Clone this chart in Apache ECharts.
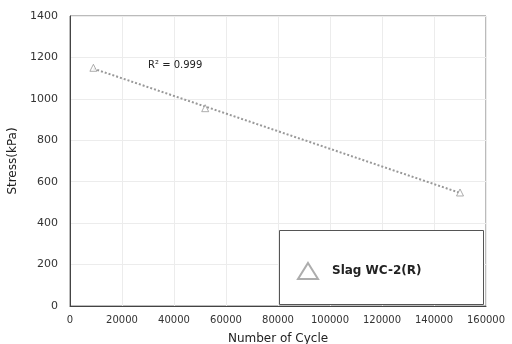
<!DOCTYPE html>
<html>
<head>
<meta charset="utf-8">
<script src="https://cdn.jsdelivr.net/npm/echarts@6/dist/echarts.min.js"></script>
</head>
<body style="margin:0">
<div id="main" style="width:512px;height:344px;"></div>
<script type="text/javascript">
// measured points
var cycles = [9000, 52000, 150000];
var stress = [1150, 955, 548];
// trend line ends
var trendCycles = [9000, 150000];
var trendStress = [1146, 546];
var seriesName = 'Slag WC-2(R)';
var r2Text = 'R² = 0.999';

var pts = cycles.map(function (c, i) { return [c, stress[i]]; });
var trend = trendCycles.map(function (c, i) { return [c, trendStress[i]]; });

var FONT = 'DejaVu Sans';
var plain = function (v) { return String(v); };
var myChart = echarts.init(document.getElementById('main'));
var option = {
    animation: false,
    textStyle: { fontFamily: FONT },
    grid: {
        left: 70, right: 26, top: 16, bottom: 38,
        outerBoundsMode: 'none', containLabel: false,
        show: true, borderColor: '#777', borderWidth: 1
    },
    xAxis: {
        type: 'value',
        min: 0, max: 160000, interval: 20000,
        name: 'Number of Cycle',
        nameLocation: 'middle', nameGap: 27,
        nameTextStyle: { fontSize: 12, color: '#222', fontFamily: FONT },
        axisLine: { lineStyle: { color: '#444' } },
        axisTick: { show: false },
        axisLabel: { fontSize: 10, color: '#333', margin: 9, formatter: plain },
        splitLine: { lineStyle: { color: '#ececec' } }
    },
    yAxis: {
        type: 'value',
        min: 0, max: 1400, interval: 200,
        name: 'Stress(kPa)',
        nameLocation: 'middle', nameGap: 39,
        nameTextStyle: { fontSize: 12, color: '#222', fontFamily: FONT },
        axisLine: { show: true, lineStyle: { color: '#444' } },
        axisTick: { show: false },
        axisLabel: { fontSize: 11, color: '#333', margin: 12, formatter: plain },
        splitLine: { lineStyle: { color: '#ececec' } }
    },
    legend: {
        data: [seriesName],
        left: 297, top: 262,
        padding: 0, z: 20,
        itemWidth: 20, itemHeight: 16,
        textStyle: { fontSize: 12, fontWeight: 'bold', color: '#222', padding: [0, 0, 0, 9], fontFamily: FONT }
    },
    graphic: [{
        type: 'rect', left: 279, top: 230, z: 5,
        shape: { width: 204, height: 74 },
        style: { fill: '#fff', stroke: '#555', lineWidth: 1 }
    }, {
        type: 'text', left: 148, top: 60, z: 6,
        style: { text: r2Text, fontSize: 10, fill: '#222', fontFamily: FONT }
    }],
    series: [{
        type: 'line',
        data: trend,
        symbol: 'none',
        lineStyle: { color: '#999', width: 2, type: [2, 2] },
        z: 2
    }, {
        name: seriesName,
        type: 'scatter',
        data: pts,
        symbol: 'triangle',
        symbolSize: 7,
        itemStyle: { color: '#fff', borderColor: '#999', borderWidth: 1 },
        z: 3
    }]
};
myChart.setOption(option);
</script>
</body>
</html>
